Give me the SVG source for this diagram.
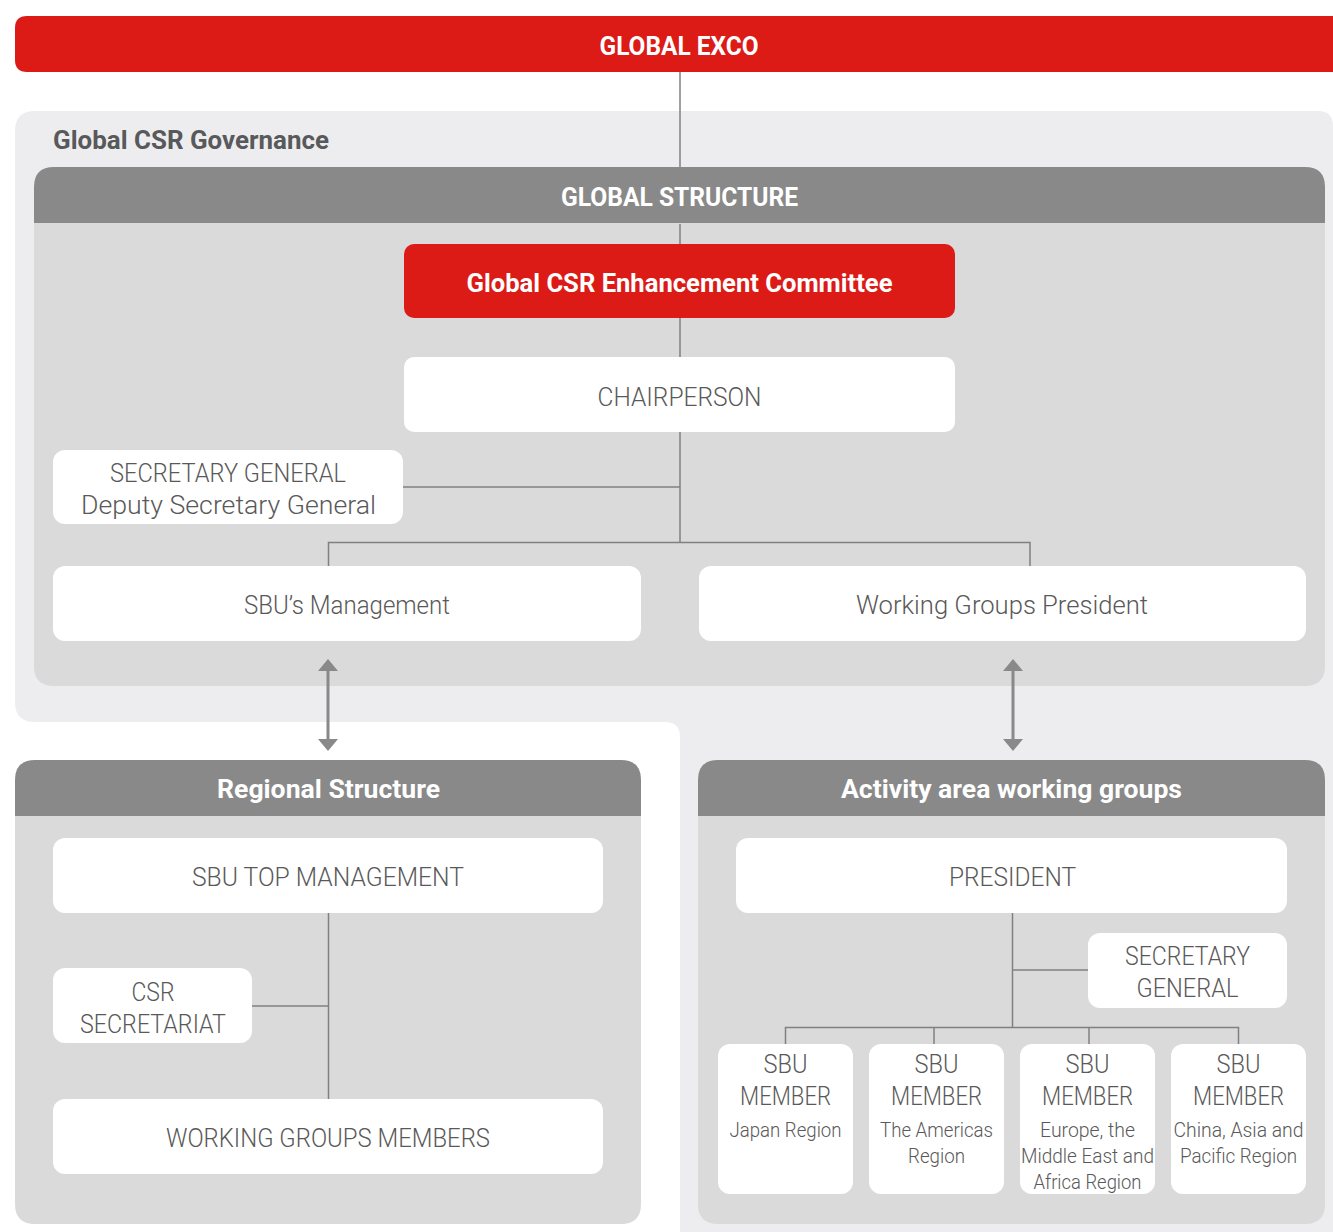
<svg xmlns="http://www.w3.org/2000/svg" width="1333" height="1232" viewBox="0 0 1333 1232">
<defs>
<style>
.bg{fill:#ededef}
.hdr{fill:#898989}
.body{fill:#dadada}
.box{fill:#ffffff}
.red{fill:#dc1a16}
.bt{font-family:Roboto,"Liberation Sans",sans-serif;font-weight:700;fill:#ffffff;text-anchor:middle;font-size:26px}
.lt{font-family:Roboto,"Liberation Sans",sans-serif;font-weight:300;fill:#595959;text-anchor:middle;font-size:25px}
.st{font-family:Roboto,"Liberation Sans",sans-serif;font-weight:300;fill:#595959;text-anchor:middle;font-size:21px}
.ln{stroke:#808080;stroke-width:1.5;fill:none}
.ar{stroke:#898989;stroke-width:3;fill:none}
.ah{fill:#898989}
</style>
</defs>
<rect width="1333" height="1232" fill="#ffffff"/>
<g id="background">
<path class="bg" d="M35,111 H1318 Q1333,111 1333,126 V1232 H680 V737 Q680,722 665,722 H35 Q15,722 15,702 V131 Q15,111 35,111 Z"/>
<text x="53" y="149" font-family="Roboto,'Liberation Sans',sans-serif" font-weight="700" font-size="26" fill="#58595b" textLength="276" lengthAdjust="spacingAndGlyphs">Global CSR Governance</text>
</g>
<g id="panel-global">
<path class="hdr" d="M54,167 H1305 Q1325,167 1325,187 V224 H34 V187 Q34,167 54,167 Z"/>
<path class="body" d="M34,223 H1325 V666 Q1325,686 1305,686 H54 Q34,686 34,666 Z"/>
<text class="bt" x="679.5" y="206" textLength="237" lengthAdjust="spacingAndGlyphs">GLOBAL STRUCTURE</text>
</g>
<g id="panel-regional">
<path class="hdr" d="M35,760 H621 Q641,760 641,780 V817 H15 V780 Q15,760 35,760 Z"/>
<path class="body" d="M15,816 H641 V1204 Q641,1224 621,1224 H35 Q15,1224 15,1204 Z"/>
<text class="bt" x="328.5" y="798" textLength="223" lengthAdjust="spacingAndGlyphs">Regional Structure</text>
</g>
<g id="panel-activity">
<path class="hdr" d="M718,760 H1305 Q1325,760 1325,780 V817 H698 V780 Q698,760 718,760 Z"/>
<path class="body" d="M698,816 H1325 V1204 Q1325,1224 1305,1224 H718 Q698,1224 698,1204 Z"/>
<text class="bt" x="1011.5" y="798" textLength="341" lengthAdjust="spacingAndGlyphs">Activity area working groups</text>
</g>
<g id="connectors">
<line class="ln" x1="680" y1="72" x2="680" y2="167"/>
<line class="ln" x1="680" y1="224" x2="680" y2="244"/>
<line class="ln" x1="680" y1="318" x2="680" y2="357"/>
<line class="ln" x1="680" y1="432" x2="680" y2="542"/>
<line class="ln" x1="403" y1="487" x2="680" y2="487"/>
<polyline class="ln" points="328.5,566 328.5,542.5 1030,542.5 1030,566"/>
<line class="ar" x1="328" y1="668" x2="328" y2="742"/>
<path class="ah" d="M318,671 L328,659 L338,671 Z M318,739 L328,751 L338,739 Z"/>
<line class="ar" x1="1013" y1="668" x2="1013" y2="742"/>
<path class="ah" d="M1003,671 L1013,659 L1023,671 Z M1003,739 L1013,751 L1023,739 Z"/>
<line class="ln" x1="328.5" y1="913" x2="328.5" y2="1099"/>
<line class="ln" x1="252" y1="1006" x2="328.5" y2="1006"/>
<line class="ln" x1="1012.5" y1="913" x2="1012.5" y2="1027"/>
<line class="ln" x1="1012.5" y1="970" x2="1088" y2="970"/>
<polyline class="ln" points="785.5,1044 785.5,1027.5 1238.5,1027.5 1238.5,1044"/>
<line class="ln" x1="934" y1="1027" x2="934" y2="1044"/>
<line class="ln" x1="1089" y1="1027" x2="1089" y2="1044"/>
</g>
<g id="global-exco">
<path class="red" d="M27,16 H1333 V72 H27 Q15,72 15,60 V28 Q15,16 27,16 Z"/>
<text class="bt" x="679" y="55" textLength="159" lengthAdjust="spacingAndGlyphs">GLOBAL EXCO</text>
</g>
<g id="committee">
<rect class="red" x="404" y="244" width="551" height="74" rx="10"/>
<text class="bt" x="679.5" y="292" textLength="426" lengthAdjust="spacingAndGlyphs">Global CSR Enhancement Committee</text>
</g>
<g id="chairperson">
<rect class="box" x="404" y="357" width="551" height="75" rx="10"/>
<text class="lt" x="679.5" y="406" textLength="164" lengthAdjust="spacingAndGlyphs">CHAIRPERSON</text>
</g>
<g id="secretary-general">
<rect class="box" x="53" y="450" width="350" height="74" rx="12"/>
<text class="lt" x="228" y="482" textLength="236" lengthAdjust="spacingAndGlyphs">SECRETARY GENERAL</text>
<text class="lt" x="228.5" y="514" textLength="295" lengthAdjust="spacingAndGlyphs">Deputy Secretary General</text>
</g>
<g id="sbu-management">
<rect class="box" x="53" y="566" width="588" height="75" rx="12"/>
<text class="lt" x="347" y="614" textLength="206" lengthAdjust="spacingAndGlyphs">SBU’s Management</text>
</g>
<g id="working-groups-president">
<rect class="box" x="699" y="566" width="607" height="75" rx="12"/>
<text class="lt" x="1002" y="614" textLength="292" lengthAdjust="spacingAndGlyphs">Working Groups President</text>
</g>
<g id="sbu-top-management">
<rect class="box" x="53" y="838" width="550" height="75" rx="12"/>
<text class="lt" x="328" y="886" textLength="272" lengthAdjust="spacingAndGlyphs">SBU TOP MANAGEMENT</text>
</g>
<g id="csr-secretariat">
<rect class="box" x="53" y="968" width="199" height="75" rx="12"/>
<text class="lt" x="153" y="1001" textLength="43" lengthAdjust="spacingAndGlyphs">CSR</text>
<text class="lt" x="153" y="1033" textLength="146" lengthAdjust="spacingAndGlyphs">SECRETARIAT</text>
</g>
<g id="working-groups-members">
<rect class="box" x="53" y="1099" width="550" height="75" rx="12"/>
<text class="lt" x="328" y="1147" textLength="324" lengthAdjust="spacingAndGlyphs">WORKING GROUPS MEMBERS</text>
</g>
<g id="president">
<rect class="box" x="736" y="838" width="551" height="75" rx="12"/>
<text class="lt" x="1012.5" y="886" textLength="127" lengthAdjust="spacingAndGlyphs">PRESIDENT</text>
</g>
<g id="activity-secretary-general">
<rect class="box" x="1088" y="933" width="199" height="75" rx="12"/>
<text class="lt" x="1187.5" y="965" textLength="125" lengthAdjust="spacingAndGlyphs">SECRETARY</text>
<text class="lt" x="1187.5" y="997" textLength="102" lengthAdjust="spacingAndGlyphs">GENERAL</text>
</g>
<g id="sbu-member-japan">
<rect class="box" x="718" y="1044" width="135" height="150" rx="12"/>
<text class="lt" x="785.5" y="1073" textLength="44" lengthAdjust="spacingAndGlyphs">SBU</text>
<text class="lt" x="785.5" y="1105" textLength="91" lengthAdjust="spacingAndGlyphs">MEMBER</text>
<text class="st" x="785.5" y="1137" textLength="112" lengthAdjust="spacingAndGlyphs">Japan Region</text>
</g>
<g id="sbu-member-americas">
<rect class="box" x="869" y="1044" width="135" height="150" rx="12"/>
<text class="lt" x="936.5" y="1073" textLength="44" lengthAdjust="spacingAndGlyphs">SBU</text>
<text class="lt" x="936.5" y="1105" textLength="91" lengthAdjust="spacingAndGlyphs">MEMBER</text>
<text class="st" x="936.5" y="1137" textLength="113" lengthAdjust="spacingAndGlyphs">The Americas</text>
<text class="st" x="936.5" y="1163" textLength="57" lengthAdjust="spacingAndGlyphs">Region</text>
</g>
<g id="sbu-member-emea">
<rect class="box" x="1020" y="1044" width="135" height="150" rx="12"/>
<text class="lt" x="1087.5" y="1073" textLength="44" lengthAdjust="spacingAndGlyphs">SBU</text>
<text class="lt" x="1087.5" y="1105" textLength="91" lengthAdjust="spacingAndGlyphs">MEMBER</text>
<text class="st" x="1087.5" y="1137" textLength="95" lengthAdjust="spacingAndGlyphs">Europe, the</text>
<text class="st" x="1087.5" y="1163" textLength="133" lengthAdjust="spacingAndGlyphs">Middle East and</text>
<text class="st" x="1087.5" y="1189" textLength="108" lengthAdjust="spacingAndGlyphs">Africa Region</text>
</g>
<g id="sbu-member-asia">
<rect class="box" x="1171" y="1044" width="135" height="150" rx="12"/>
<text class="lt" x="1238.5" y="1073" textLength="44" lengthAdjust="spacingAndGlyphs">SBU</text>
<text class="lt" x="1238.5" y="1105" textLength="91" lengthAdjust="spacingAndGlyphs">MEMBER</text>
<text class="st" x="1238.5" y="1137" textLength="130" lengthAdjust="spacingAndGlyphs">China, Asia and</text>
<text class="st" x="1238.5" y="1163" textLength="117" lengthAdjust="spacingAndGlyphs">Pacific Region</text>
</g>
</svg>
